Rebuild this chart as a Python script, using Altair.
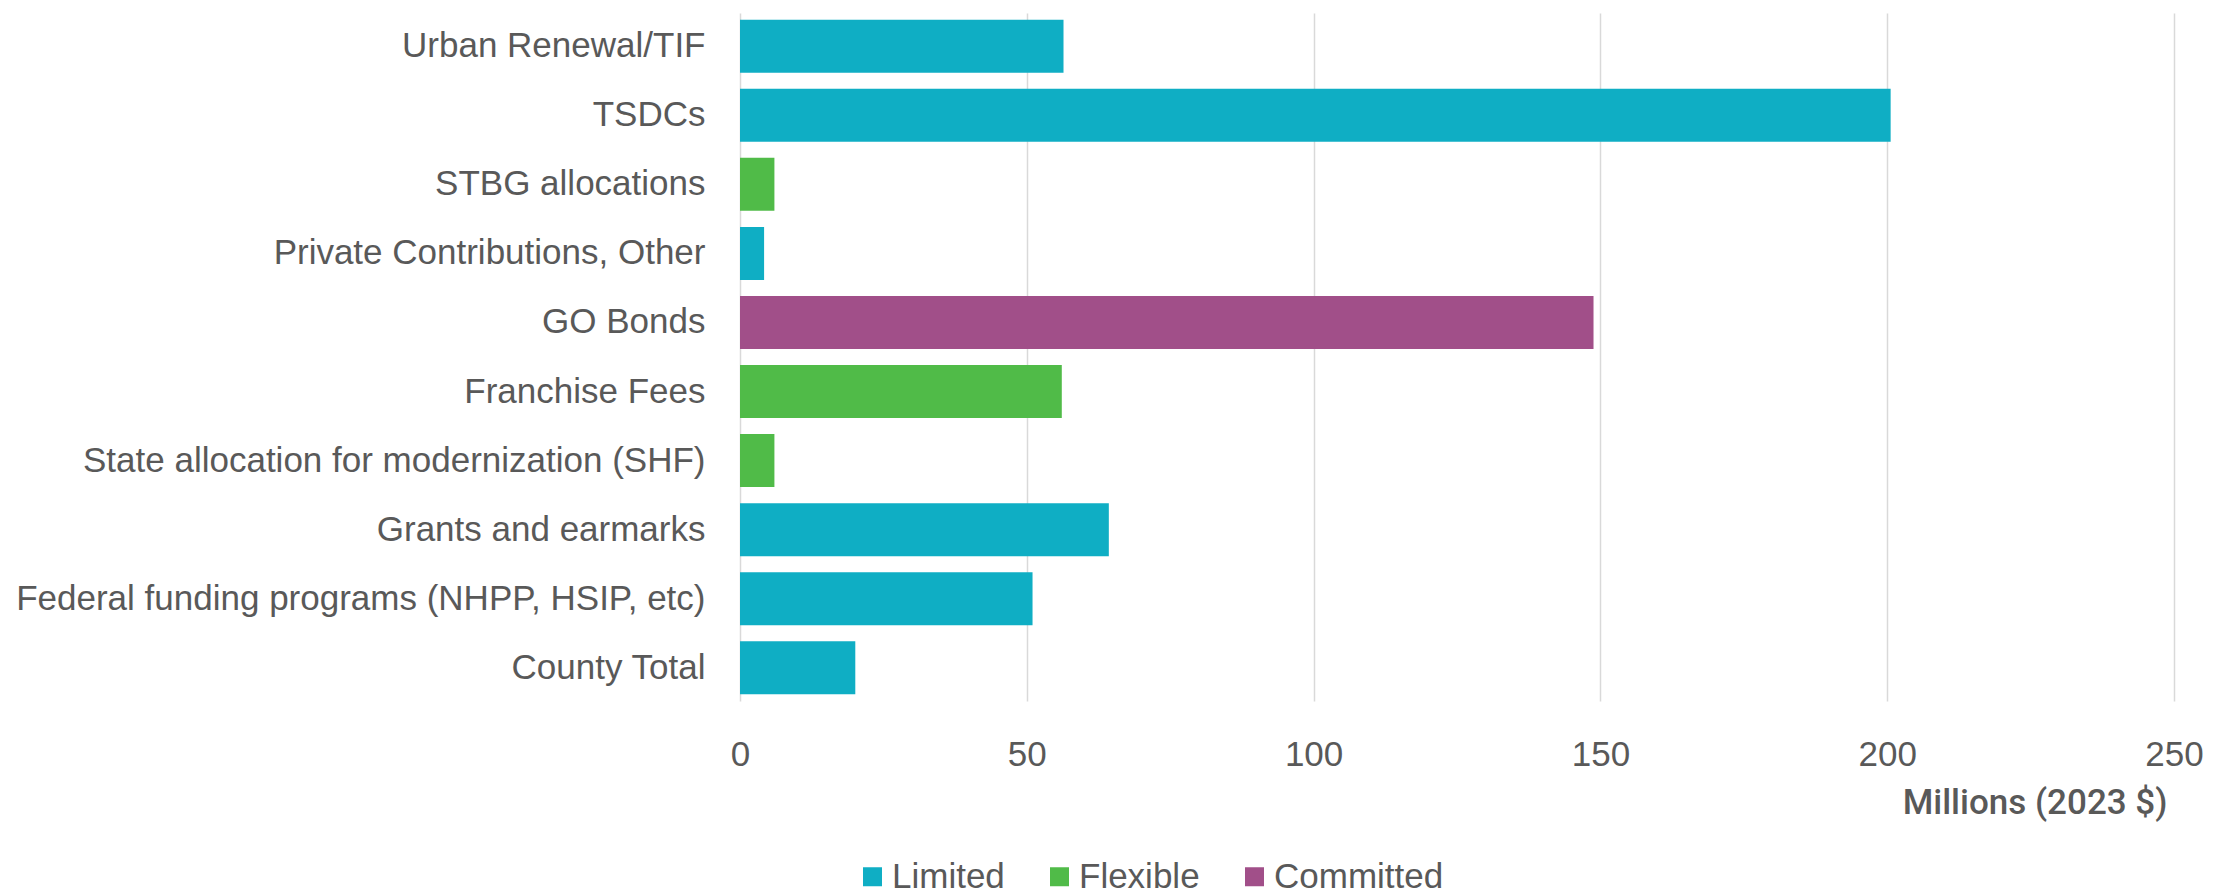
import altair as alt
import pandas as pd

categories = [
    "Urban Renewal/TIF",
    "TSDCs",
    "STBG allocations",
    "Private Contributions, Other",
    "GO Bonds",
    "Franchise Fees",
    "State allocation for modernization (SHF)",
    "Grants and earmarks",
    "Federal funding programs (NHPP, HSIP, etc)",
    "County Total",
]
values = [56.4, 200.6, 6.0, 4.2, 148.8, 56.1, 6.0, 64.3, 51.0, 20.1]
types = ["Limited", "Limited", "Flexible", "Limited", "Committed",
         "Flexible", "Flexible", "Limited", "Limited", "Limited"]

type_order = ["Limited", "Flexible", "Committed"]
type_colors = ["#0FAEC4", "#50BB48", "#A14F89"]
x_ticks = [0, 50, 100, 150, 200, 250]

df = pd.DataFrame({"Source": categories, "Value": values, "Type": types})

TEXT = "#595959"

chart = alt.Chart(df).mark_bar().encode(
    y=alt.Y(
        "Source:N",
        sort=categories,
        scale=alt.Scale(paddingInner=0.232, paddingOuter=0.097),
        axis=alt.Axis(
            title=None, domain=False, ticks=False, grid=False,
            labelFontSize=35, labelColor=TEXT, labelPadding=35, labelLimit=0,
        ),
    ),
    x=alt.X(
        "Value:Q",
        scale=alt.Scale(domain=[0, 250], nice=False),
        axis=alt.Axis(
            values=x_ticks, title="Millions (2023 $)",
            domain=False, ticks=False, grid=True,
            gridColor="#D9D9D9", gridWidth=1.5,
            labelFontSize=35, labelColor=TEXT, labelPadding=36, labelFlush=False,
            titleX=1427, titleY=112, titleAlign="right", titleBaseline="alphabetic",
            titleFontSize=35, titleFont="Roboto", titleFontWeight=500, titleColor=TEXT,
        ),
    ),
    color=alt.Color(
        "Type:N",
        scale=alt.Scale(domain=type_order, range=type_colors),
        legend=alt.Legend(
            title=None, orient="none", direction="horizontal",
            legendX=115, legendY=846, padding=0,
            symbolType="square", symbolSize=361, symbolStrokeWidth=0,
            labelFontSize=35, labelColor=TEXT, labelOffset=2, labelLimit=0,
            columnPadding=37,
        ),
    ),
).properties(
    width=1434,
    height=688,
    autosize="none",
    padding={"left": 732, "top": 5, "right": 32, "bottom": 193},
).configure(font="Liberation Sans").configure_view(stroke=None)

chart.save("out.html", embed_options={"renderer": "svg", "actions": False})
